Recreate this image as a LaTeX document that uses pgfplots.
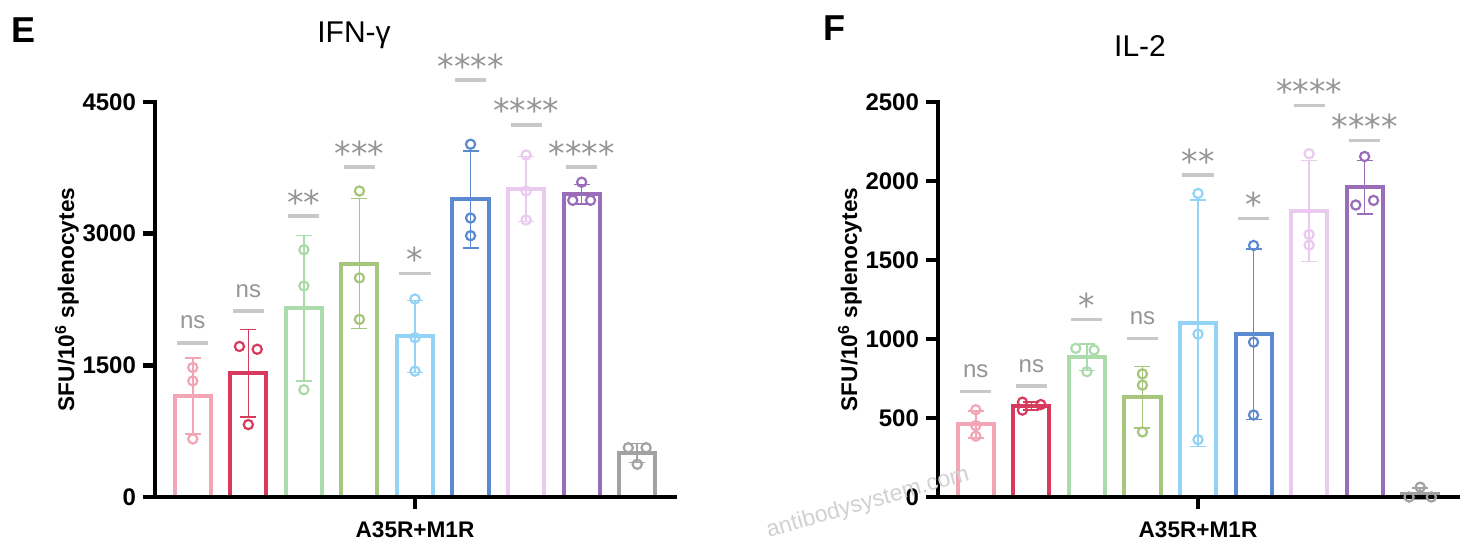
\documentclass[border=0pt]{standalone}
\usepackage{pgfplots}
\pgfplotsset{compat=1.18}
\usepackage{fontspec}
\setmainfont{Liberation Sans}
\newfontfamily\djv{DejaVu Sans}
\definecolor{c1}{HTML}{F2A5B5}
\definecolor{c2}{HTML}{D63A5C}
\definecolor{c3}{HTML}{ABDAAB}
\definecolor{c4}{HTML}{A5C67B}
\definecolor{c5}{HTML}{92D3F6}
\definecolor{c6}{HTML}{5B8AD0}
\definecolor{c7}{HTML}{EACAEF}
\definecolor{c8}{HTML}{9A6DB8}
\definecolor{c9}{HTML}{A2A2A2}
\definecolor{sigline}{HTML}{C8C8C8}
\definecolor{sigtext}{HTML}{959595}

\pgfplotsset{
  panel/.style={
    scale only axis, width=260pt, height=197.5pt,
    xmin=-0.68, xmax=8.68, ymin=0,
    axis x line=bottom, axis y line=left,
    axis line style={line width=2.4pt, -, black, line cap=rect},
    tick style={line width=2.2pt, black},
    tick align=outside, major tick length=6pt,
    xtick={4}, xticklabels={A35R+M1R},
    yticklabel style={font=\bfseries\fontsize{12}{12}\selectfont},
    xticklabel style={font=\bfseries\fontsize{11.3}{11.3}\selectfont, yshift=-3pt},
    /pgf/number format/assume math mode=true,
    /pgf/number format/1000 sep={},
    scaled y ticks=false,
    ylabel={SFU/10\textsuperscript{6} splenocytes},
    ylabel style={font=\bfseries\fontsize{11.3}{11.3}\selectfont, at={(axis description cs:0,0.5)}, anchor=center, yshift=44pt},
    clip=false, axis on top,
  },
  bb/.style={ybar, bar width=0.65, bar shift=0pt, draw=#1, fill=white, line width=2pt,
    error bars/.cd, y dir=both, y explicit,
    error bar style={line width=0.8pt, #1},
    error mark options={rotate=90, mark size=4pt, line width=0.8pt, #1}},
  pts/.style={only marks, mark=o, mark size=2.3pt, draw=#1, line width=1.1pt, mark options={draw=#1, fill=none}},
}
\tikzset{
  sigl/.style={line width=1.8pt, sigline},
  sigt/.style={text=sigtext, font=\fontsize{12}{12}\selectfont, inner sep=0pt, anchor=base},
  sigs/.style={text=sigtext, font=\djv\fontsize{16.5}{16.5}\selectfont, inner sep=0pt, anchor=base},
}
\newcommand{\signs}[2]{%
  \draw[sigl] (axis cs:{#1-0.28},#2) -- (axis cs:{#1+0.28},#2);
  \node[sigt, yshift=7pt] at (axis cs:#1,#2) {ns};}
\newcommand{\sigst}[3]{%
  \draw[sigl] (axis cs:{#1-0.28},#2) -- (axis cs:{#1+0.28},#2);
  \node[sigs, yshift=1pt] at (axis cs:#1,#2) {#3};}

\begin{document}
\begin{tikzpicture}
\useasboundingbox (0,0) rectangle (742pt,274.5pt);

% ---------------- Panel E ----------------
\begin{axis}[panel, at={(77.5pt,26pt)}, anchor=south west, ymax=4500, ytick={0,1500,3000,4500}]
\addplot[bb=c1] coordinates {(0,1150) +- (0,430)};
\addplot[pts=c1] coordinates {(0,1475) (0,1322) (0,661)};
\addplot[bb=c2] coordinates {(1,1410) +- (0,500)};
\addplot[pts=c2] coordinates {(0.84,1715) (1.16,1683) (1,825)};
\addplot[bb=c3] coordinates {(2,2150) +- (0,830)};
\addplot[pts=c3] coordinates {(2,2817) (2,2404) (2,1222)};
\addplot[bb=c4] coordinates {(3,2660) +- (0,740)};
\addplot[pts=c4] coordinates {(3,3486) (3,2496) (3,2023)};
\addplot[bb=c5] coordinates {(4,1830) +- (0,410)};
\addplot[pts=c5] coordinates {(4,2256) (4,1815) (4,1434)};
\addplot[bb=c6] coordinates {(5,3390) +- (0,550)};
\addplot[pts=c6] coordinates {(5,4019) (5,3178) (5,2977)};
\addplot[bb=c7] coordinates {(6,3510) +- (0,370)};
\addplot[pts=c7] coordinates {(6,3896) (6,3486) (6,3156)};
\addplot[bb=c8] coordinates {(7,3450) +- (0,110)};
\addplot[pts=c8] coordinates {(7,3586) (6.84,3380) (7.16,3380)};
\addplot[bb=c9] coordinates {(8,500) +- (0,108)};
\addplot[pts=c9] coordinates {(7.84,561) (8.16,561) (8,373)};
\signs{0}{1755}
\signs{1}{2116}
\sigst{2}{3198}{**}
\sigst{3}{3759}{***}
\sigst{4}{2548}{*}
\sigst{5}{4748}{****}
\sigst{6}{4239}{****}
\sigst{7}{3759}{****}
\end{axis}

% ---------------- Panel F ----------------
\begin{axis}[panel, at={(469pt,26pt)}, anchor=south west, ymax=2500, ytick={0,500,1000,1500,2000,2500}]
\addplot[bb=c1] coordinates {(0,460) +- (0,85)};
\addplot[pts=c1] coordinates {(0,552) (0,452) (0,385)};
\addplot[bb=c2] coordinates {(1,575) +- (0,25)};
\addplot[pts=c2] coordinates {(0.84,600) (0.84,550) (1.17,585)};
\addplot[bb=c3] coordinates {(2,885) +- (0,85)};
\addplot[pts=c3] coordinates {(1.8,941) (2.13,930) (2,793)};
\addplot[bb=c4] coordinates {(3,630) +- (0,195)};
\addplot[pts=c4] coordinates {(3,779) (3,708) (3,412)};
\addplot[bb=c5] coordinates {(4,1100) +- (0,780)};
\addplot[pts=c5] coordinates {(4,1921) (4,1031) (4,363)};
\addplot[bb=c6] coordinates {(5,1030) +- (0,540)};
\addplot[pts=c6] coordinates {(5,1592) (5,980) (5,519)};
\addplot[bb=c7] coordinates {(6,1810) +- (0,320)};
\addplot[pts=c7] coordinates {(6,2173) (6,1661) (6,1594)};
\addplot[bb=c8] coordinates {(7,1960) +- (0,170)};
\addplot[pts=c8] coordinates {(7,2155) (6.84,1848) (7.16,1877)};
\addplot[bb=c9] coordinates {(8,21) +- (0,36)};
\addplot[pts=c9] coordinates {(8,62) (7.8,0) (8.2,0)};
\signs{0}{668}
\signs{1}{701}
\sigst{2}{1124}{*}
\signs{3}{1002}
\sigst{4}{2037}{**}
\sigst{5}{1763}{*}
\sigst{6}{2478}{****}
\sigst{7}{2255}{****}
\end{axis}

% titles and panel letters
\node[font=\fontsize{15}{15}\selectfont] at (177pt,257pt) {IFN-γ};
\node[font=\fontsize{15}{15}\selectfont] at (570pt,251.5pt) {IL-2};
\node[font=\bfseries\fontsize{18}{18}\selectfont] at (12pt,259.5pt) {E};
\node[font=\bfseries\fontsize{18}{18}\selectfont] at (417pt,260.5pt) {F};
% watermark
\node[rotate=16, text=black!18, font=\fontsize{11.5}{11.5}\selectfont] at (434pt,23pt) {antibodysystem.com};
\end{tikzpicture}
\end{document}
